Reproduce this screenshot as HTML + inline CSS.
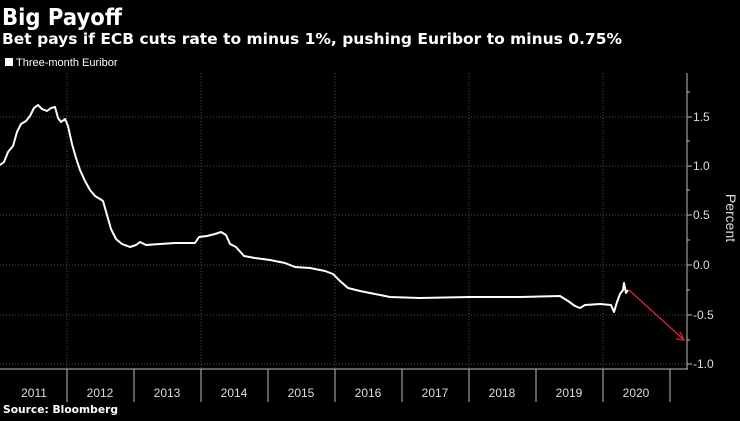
<!DOCTYPE html>
<html><head><style>
body{margin:0;background:#000;width:740px;height:416px;overflow:hidden;font-family:"Liberation Sans",sans-serif;color:#fff}
</style></head><body>
<svg width="740" height="416" xmlns="http://www.w3.org/2000/svg" font-family="Liberation Sans, sans-serif">
<text x="2" y="25" font-size="23" font-weight="bold" fill="#fff" font-family="DejaVu Sans, sans-serif" textLength="120" lengthAdjust="spacingAndGlyphs">Big Payoff</text>
<text x="2" y="44" font-size="15" font-weight="bold" fill="#fff" font-family="DejaVu Sans, sans-serif" textLength="620" lengthAdjust="spacingAndGlyphs">Bet pays if ECB cuts rate to minus 1%, pushing Euribor to minus 0.75%</text>
<rect x="5" y="58" width="8" height="8" fill="#fff"/>
<text x="16" y="66" font-size="11" fill="#fff">Three-month Euribor</text>
<g stroke="#666" stroke-width="0.8" stroke-dasharray="1,2">
<line x1="0" x2="687" y1="117" y2="117"/><line x1="0" x2="687" y1="166" y2="166"/>
<line x1="0" x2="687" y1="215" y2="215"/><line x1="0" x2="687" y1="265" y2="265"/>
<line x1="0" x2="687" y1="315" y2="315"/><line x1="0" x2="687" y1="364" y2="364"/>
<line x1="67" x2="67" y1="73" y2="369"/><line x1="201" x2="201" y1="73" y2="369"/>
<line x1="335" x2="335" y1="73" y2="369"/><line x1="469" x2="469" y1="73" y2="369"/>
<line x1="603" x2="603" y1="73" y2="369"/>
</g>
<g stroke="#bbb" stroke-width="1">
<line x1="0" x2="688" y1="369" y2="369"/>
<line x1="687" x2="687" y1="73" y2="369"/>
<line x1="67" x2="67" y1="369" y2="402"/><line x1="134" x2="134" y1="369" y2="402"/>
<line x1="201" x2="201" y1="369" y2="402"/><line x1="268" x2="268" y1="369" y2="402"/>
<line x1="335" x2="335" y1="369" y2="402"/><line x1="402" x2="402" y1="369" y2="402"/>
<line x1="469" x2="469" y1="369" y2="402"/><line x1="536" x2="536" y1="369" y2="402"/>
<line x1="603" x2="603" y1="369" y2="402"/><line x1="670" x2="670" y1="369" y2="402"/>
<line x1="687" x2="692" y1="117" y2="117"/><line x1="687" x2="692" y1="166" y2="166"/>
<line x1="687" x2="692" y1="215" y2="215"/><line x1="687" x2="692" y1="265" y2="265"/>
<line x1="687" x2="692" y1="315" y2="315"/><line x1="687" x2="692" y1="364" y2="364"/>
<line x1="687" x2="690" y1="92" y2="92"/><line x1="687" x2="690" y1="141" y2="141"/>
<line x1="687" x2="690" y1="190" y2="190"/><line x1="687" x2="690" y1="240" y2="240"/>
<line x1="687" x2="690" y1="290" y2="290"/><line x1="687" x2="690" y1="340" y2="340"/>
</g>
<g font-size="12" fill="#ddd">
<text x="693" y="121">1.5</text><text x="693" y="170">1.0</text><text x="693" y="219">0.5</text>
<text x="693" y="269">0.0</text><text x="693" y="319">-0.5</text><text x="693" y="368">-1.0</text>
</g>
<text transform="translate(726,218) rotate(90)" text-anchor="middle" font-size="14" fill="#ddd">Percent</text>
<g font-size="12" fill="#ddd" text-anchor="middle">
<text x="34" y="397">2011</text><text x="100" y="397">2012</text><text x="167" y="397">2013</text>
<text x="234" y="397">2014</text><text x="301" y="397">2015</text><text x="368" y="397">2016</text>
<text x="435" y="397">2017</text><text x="502" y="397">2018</text><text x="569" y="397">2019</text>
<text x="636" y="397">2020</text>
</g>
<text x="3" y="413" font-size="11" font-weight="bold" fill="#fff" font-family="DejaVu Sans, sans-serif" textLength="115" lengthAdjust="spacingAndGlyphs">Source: Bloomberg</text>
<polyline fill="none" stroke="#fff" stroke-width="2" stroke-linejoin="round" points="0,165 4,162 8,152 13,146 17,132 21,124 26,121 30,116 34,108 38,105 42,109 47,111 51,108 55,107 58,118 61,122 65,119 68,126 72,144 76,158 80,170 85,181 90,190 95,196 100,199 103,201 107,215 111,229 116,239 122,244 130,247 136,245 140,242 146,245 160,244 175,243 195,243 199,237 207,236 215,234 221,232 226,235 230,244 236,247 244,256 255,258 270,260 285,263 295,267 310,268 325,271 333,274 340,281 348,288 360,291 375,294 390,297 420,298 470,297 520,297 560,296 568,301 575,306 580,308 585,305 600,304 611,305 614,312 617,302 620,294 623,290 624,283 626,293 628,290"/>
<line x1="629" y1="290" x2="683" y2="339" stroke="#e0203c" stroke-width="1.3"/>
<polyline points="676,339 684,340 680,332" fill="none" stroke="#e0203c" stroke-width="1.3"/>
</svg>
</body></html>
